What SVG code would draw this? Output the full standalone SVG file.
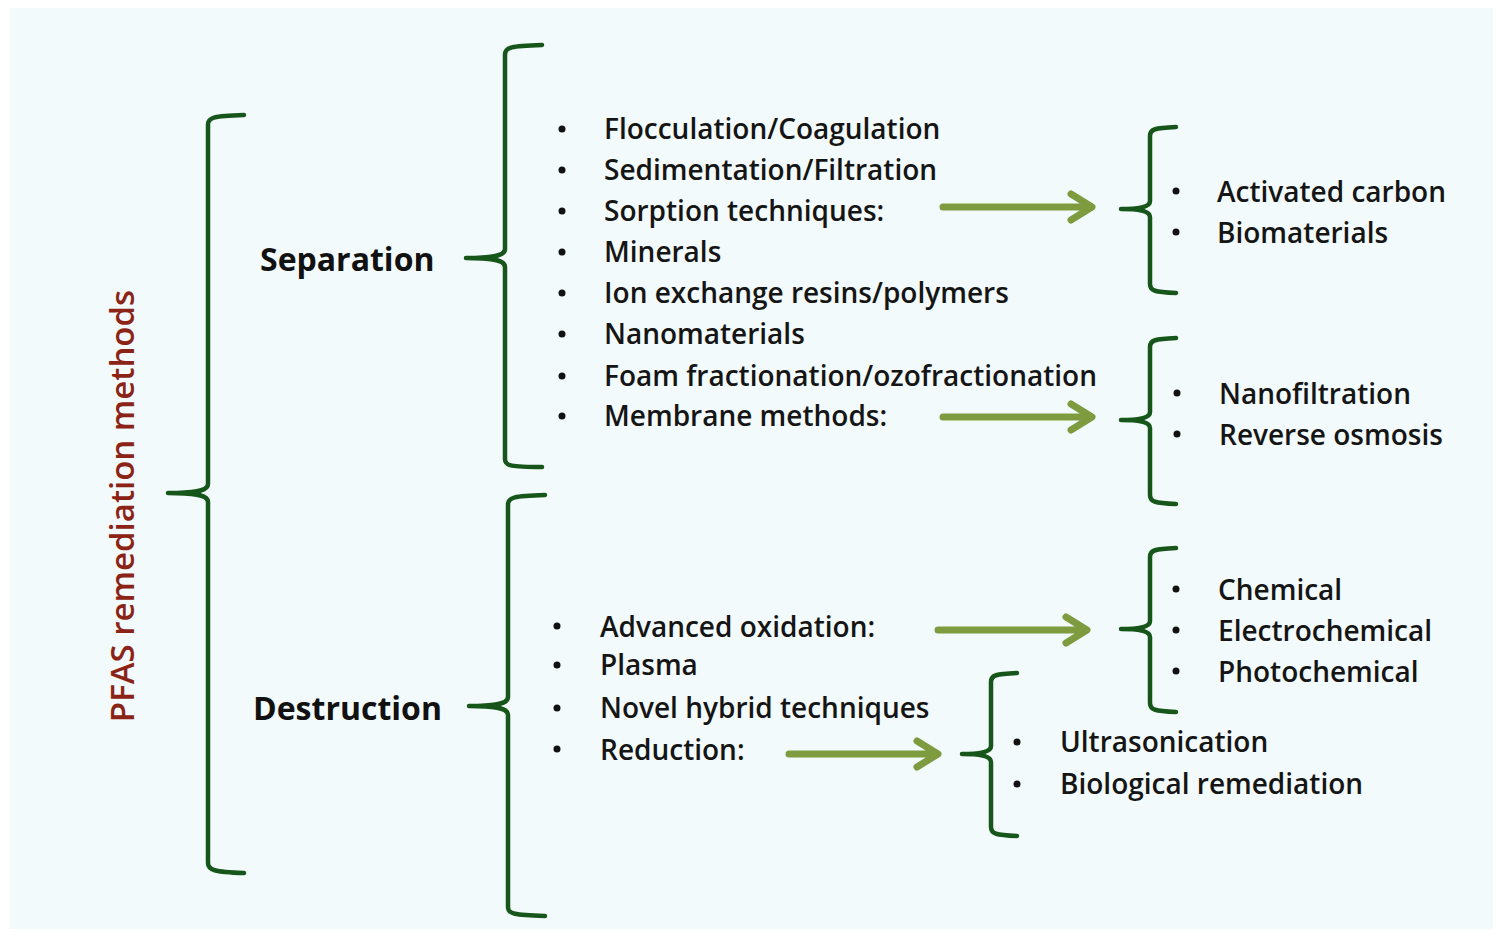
<svg xmlns="http://www.w3.org/2000/svg" width="1503" height="935" viewBox="0 0 1503 935">
<style>
.br{fill:none;stroke:#17561a;stroke-width:4.5;stroke-linecap:round;stroke-linejoin:round}
.ar{fill:none;stroke:#7e9b3f;stroke-width:7;stroke-linecap:round;stroke-linejoin:round}
.t{font-family:"Open Sans",Lato,sans-serif;font-size:28px;font-weight:600;fill:#151515}
.h{font-family:"Open Sans",Lato,sans-serif;font-size:32px;font-weight:bold;fill:#111}
.b{fill:#111}
</style>
<rect x="0" y="0" width="1503" height="935" fill="#ffffff"/>
<rect x="10" y="8" width="1483" height="921" fill="#f2fafb"/>

<g id="root">
<text transform="translate(134,506) rotate(-90)" text-anchor="middle" style="font-family:'Open Sans',Lato,sans-serif;font-size:33px;font-weight:600;fill:#8b2416">PFAS remediation methods</text>
<path class="br" d="M244,115 C214,116 208,117 208,125 L208,484 C208,490 200,493 168,493 C200,493 208,496 208,502 L208,863 C208,870 214,872 244,873"/>
</g>

<g id="separation">
<text class="h" x="260" y="271">Separation</text>
<path class="br" d="M542,45 C511,46 505,47 505,55 L505,249 C505,255 497,258 466,258 C497,258 505,261 505,267 L505,459 C505,466 511,467 542,467"/>
<g class="t">
<text x="604" y="139">Flocculation/Coagulation</text>
<text x="604" y="180">Sedimentation/Filtration</text>
<text x="604" y="221">Sorption techniques:</text>
<text x="604" y="262">Minerals</text>
<text x="604" y="303">Ion exchange resins/polymers</text>
<text x="604" y="344">Nanomaterials</text>
<text x="604" y="386">Foam fractionation/ozofractionation</text>
<text x="604" y="426">Membrane methods:</text>
</g>
<g class="b">
<circle cx="562" cy="129" r="3.5"/><circle cx="562" cy="170" r="3.5"/><circle cx="562" cy="211" r="3.5"/><circle cx="562" cy="252" r="3.5"/>
<circle cx="562" cy="293" r="3.5"/><circle cx="562" cy="334" r="3.5"/><circle cx="562" cy="376" r="3.5"/><circle cx="562" cy="416" r="3.5"/>
</g>
</g>

<g id="sorption">
<path class="br" d="M1176,127 C1155,128 1150,129 1150,136 L1150,201 C1150,206 1143,209 1121,209 C1143,209 1150,212 1150,217 L1150,284 C1150,291 1155,292 1176,293"/>
<g class="t"><text x="1217" y="202">Activated carbon</text><text x="1217" y="243">Biomaterials</text></g>
<g class="b"><circle cx="1176" cy="191" r="3.5"/><circle cx="1176" cy="232" r="3.5"/></g>
</g>

<g id="membrane">
<path class="br" d="M1176,338 C1155,339 1150,340 1150,347 L1150,412 C1150,417 1143,420 1121,420 C1143,420 1150,423 1150,428 L1150,495 C1150,502 1155,503 1176,504"/>
<g class="t"><text x="1219" y="404">Nanofiltration</text><text x="1219" y="445">Reverse osmosis</text></g>
<g class="b"><circle cx="1177" cy="393" r="3.5"/><circle cx="1177" cy="434" r="3.5"/></g>
</g>

<g id="destruction">
<text class="h" x="253" y="720">Destruction</text>
<path class="br" d="M545,495 C514,496 508,497 508,505 L508,697 C508,703 500,706 469,706 C500,706 508,709 508,715 L508,907 C508,914 514,915 545,916"/>
<g class="t">
<text x="600" y="637">Advanced oxidation:</text>
<text x="600" y="675">Plasma</text>
<text x="600" y="718">Novel hybrid techniques</text>
<text x="600" y="760">Reduction:</text>
</g>
<g class="b"><circle cx="557" cy="626" r="3.5"/><circle cx="557" cy="665" r="3.5"/><circle cx="557" cy="708" r="3.5"/><circle cx="557" cy="749" r="3.5"/></g>
</g>

<g id="oxidation">
<path class="br" d="M1176,548 C1155,549 1150,550 1150,557 L1150,621 C1150,626 1143,629 1121,629 C1143,629 1150,632 1150,637 L1150,703 C1150,710 1155,711 1176,712"/>
<g class="t"><text x="1218" y="600">Chemical</text><text x="1218" y="641">Electrochemical</text><text x="1218" y="682">Photochemical</text></g>
<g class="b"><circle cx="1176" cy="589" r="3.5"/><circle cx="1176" cy="630" r="3.5"/><circle cx="1176" cy="671" r="3.5"/></g>
</g>

<g id="reduction">
<path class="br" d="M1017,673 C996,674 991,675 991,682 L991,746 C991,751 984,754 962,754 C984,754 991,757 991,762 L991,827 C991,834 996,835 1017,836"/>
<g class="t"><text x="1060" y="752">Ultrasonication</text><text x="1060" y="794">Biological remediation</text></g>
<g class="b"><circle cx="1017" cy="742" r="3.5"/><circle cx="1017" cy="784" r="3.5"/></g>
</g>

<g id="connectors">
<path class="ar" d="M943,207 L1089,207 M1071,194 L1092,207 L1071,220"/>
<path class="ar" d="M943,417 L1089,417 M1071,404 L1092,417 L1071,430"/>
<path class="ar" d="M938,630 L1084,630 M1066,617 L1087,630 L1066,643"/>
<path class="ar" d="M789,754 L935,754 M917,741 L938,754 L917,767"/>
</g>
</svg>
